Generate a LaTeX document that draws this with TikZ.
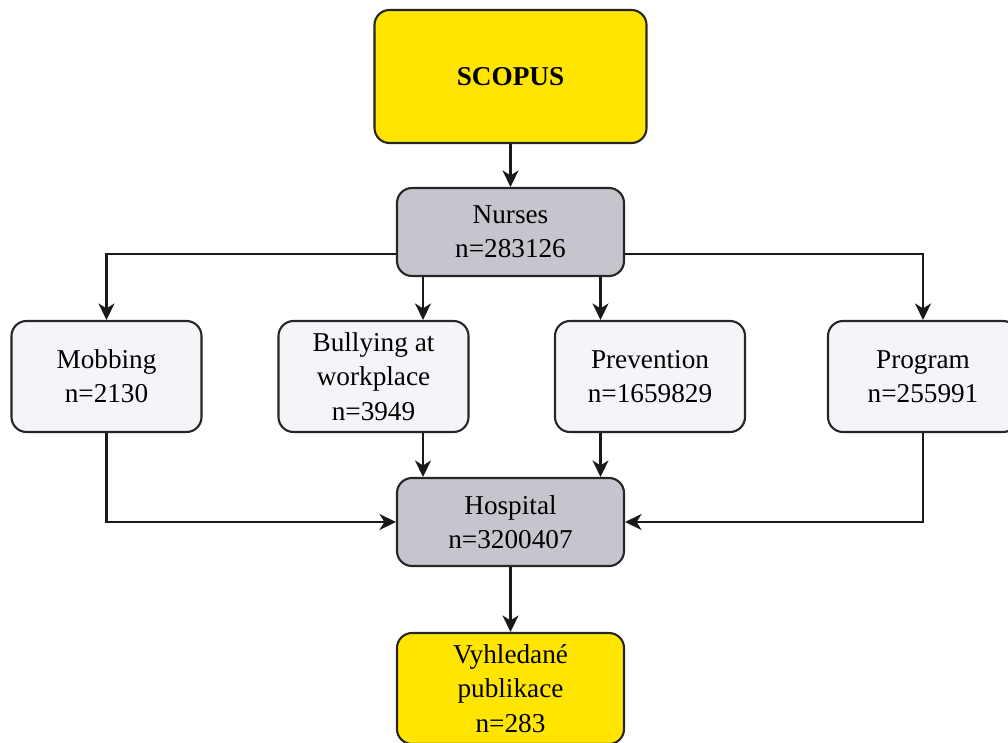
\documentclass[tikz,border=0pt]{standalone}
\usepackage{fontspec}
\setmainfont{Liberation Serif}
\usetikzlibrary{arrows.meta}
\definecolor{boxyellow}{HTML}{FFE500}
\definecolor{boxgray}{HTML}{C5C6CD}
\definecolor{boxlight}{HTML}{F5F5F9}
\begin{document}
\begin{tikzpicture}[
        box/.style={draw=black!85, line width=1.2pt, rounded corners=3mm, align=center,
          inner sep=2pt, font=\fontsize{15.5}{19.5}\selectfont},
        topbox/.style={box, fill=boxyellow, minimum width=5.44cm, minimum height=2.66cm},
        midbox/.style={box, fill=boxgray, minimum width=4.54cm, minimum height=1.76cm},
        leafbox/.style={box, fill=boxlight, minimum width=3.8cm, minimum height=2.22cm},
        endbox/.style={box, fill=boxyellow, minimum width=4.54cm, minimum height=2.22cm},
        arrow/.style={draw=black!90, line width=1.3pt, -{Stealth[length=3.3mm, width=3.2mm, inset=1mm]}}
      ]
      \useasboundingbox (0,0) rectangle (20.16,-14.84);
      \node[topbox] (scopus) at (10.21,-1.53) {\textbf{SCOPUS}};
      \node[midbox] (nurses) at (10.21,-4.64) {Nurses\\n=283126};
      \node[leafbox] (mobbing) at (2.13,-7.53) {Mobbing\\n=2130};
      \node[leafbox] (bullying) at (7.47,-7.53) {Bullying at\\workplace\\n=3949};
      \node[leafbox] (prevention) at (13.0,-7.53) {Prevention\\n=1659829};
      \node[leafbox] (program) at (18.46,-7.53) {Program\\n=255991};
      \node[midbox] (hospital) at (10.21,-10.44) {Hospital\\n=3200407};
      \node[endbox] (result) at (10.21,-13.77) {Vyhledané\\publikace\\n=283};
      \coordinate (lx) at (8.46,0);
      \coordinate (rx) at (12.01,0);
      \draw[arrow] (scopus) -- (nurses);
      \draw[arrow] ([yshift=-0.44cm]nurses.west) -| (mobbing.north);
      \draw[arrow] ([yshift=-0.44cm]nurses.east) -| (program.north);
      \draw[arrow] (nurses.south -| lx) -- (bullying.north -| lx);
      \draw[arrow] (nurses.south -| rx) -- (prevention.north -| rx);
      \draw[arrow] (bullying.south -| lx) -- (hospital.north -| lx);
      \draw[arrow] (prevention.south -| rx) -- (hospital.north -| rx);
      \draw[arrow] (mobbing.south) |- (hospital.west);
      \draw[arrow] (program.south) |- (hospital.east);
      \draw[arrow] (hospital) -- (result);
    \end{tikzpicture}
\end{document}
